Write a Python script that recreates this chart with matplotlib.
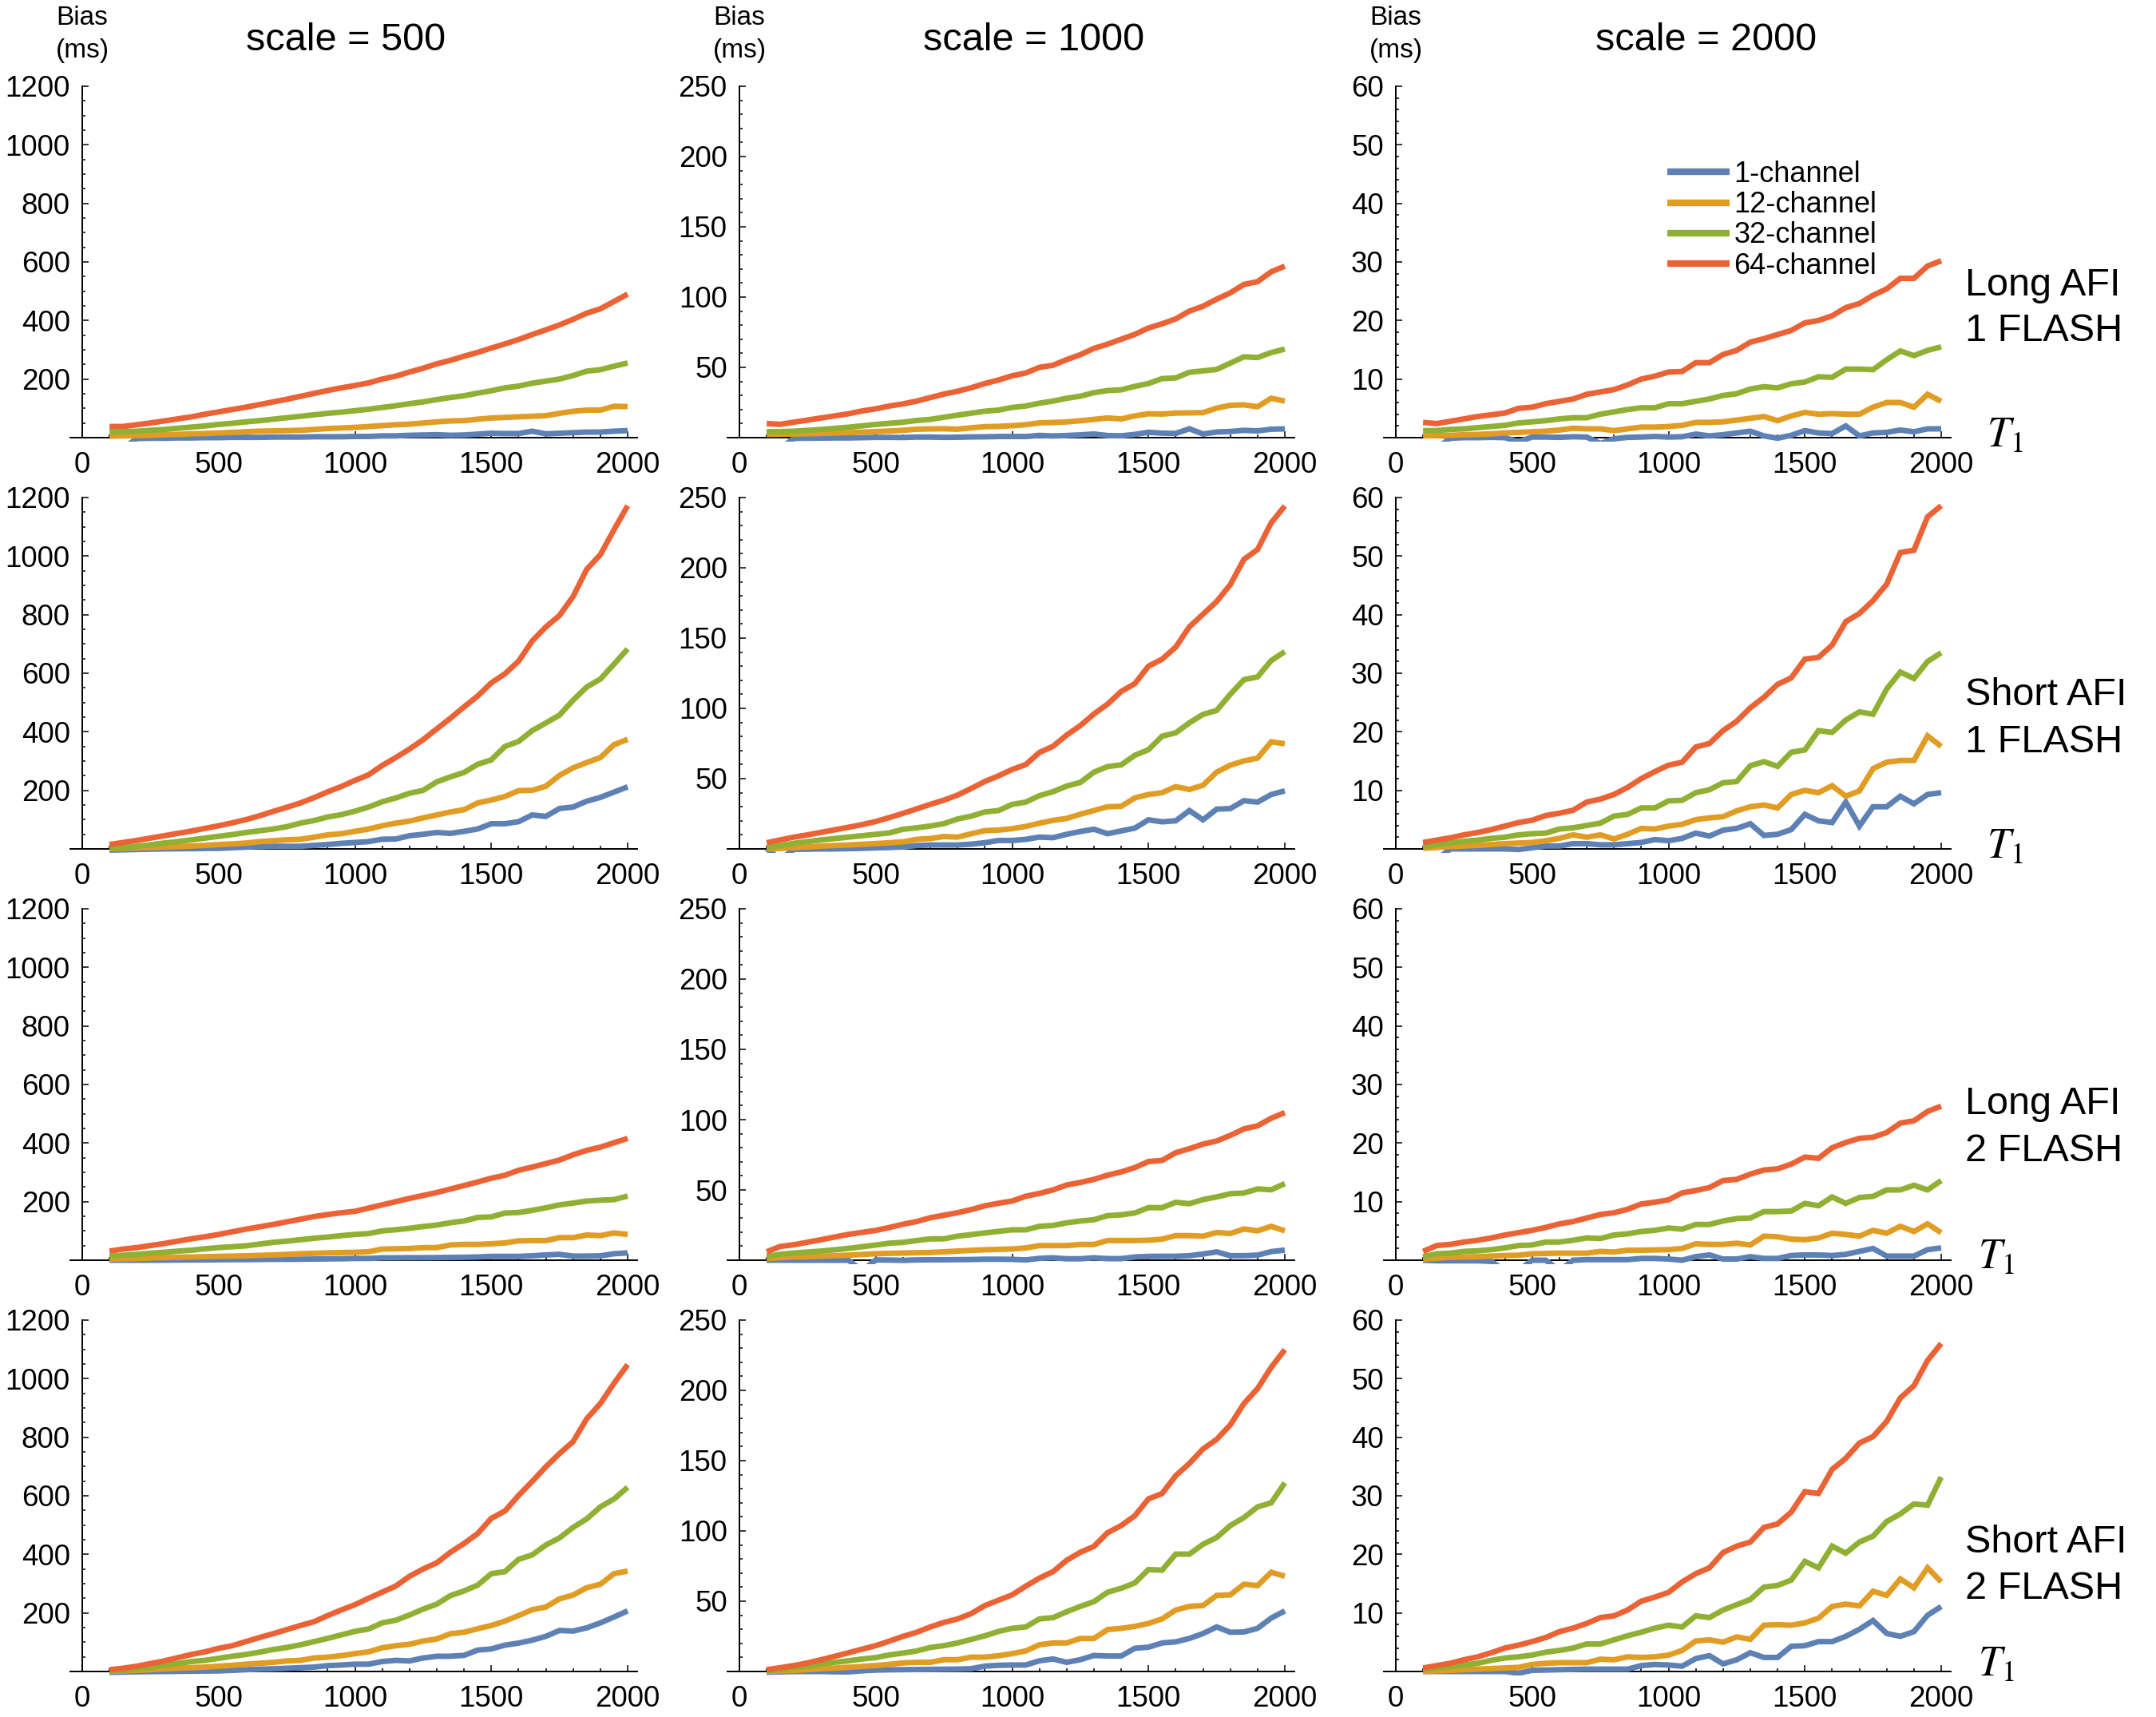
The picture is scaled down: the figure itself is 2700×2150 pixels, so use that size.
import matplotlib
matplotlib.use('Agg')
import matplotlib.pyplot as plt
from matplotlib.ticker import MultipleLocator

plt.rcParams['font.family'] = ['Liberation Sans', 'DejaVu Sans']
plt.rcParams['mathtext.fontset'] = 'stix'

# ---------------- data ----------------
T1 = [100, 150, 200, 250, 300, 350, 400, 450, 500, 550, 600, 650, 700, 750,
      800, 850, 900, 950, 1000, 1050, 1100, 1150, 1200, 1250, 1300, 1350,
      1400, 1450, 1500, 1550, 1600, 1650, 1700, 1750, 1800, 1850, 1900,
      1950, 2000]

channel_labels = ["1-channel", "12-channel", "32-channel", "64-channel"]
scales = [500, 1000, 2000]
y_max = [1200, 250, 60]
y_major = [200, 50, 10]
y_minor = [50, 10, 2]
row_labels = [("Long AFI", "1 FLASH"), ("Short AFI", "1 FLASH"),
              ("Long AFI", "2 FLASH"), ("Short AFI", "2 FLASH")]

# Long AFI, 1 FLASH
la1_500_c1 = [-36, -36, -3, -2, -2, -1, -1, 0, 0, 1, 1, 1, 2, 2, 2, 3, 3, 3, 4, 4, 6, 6, 8, 9, 10, 8, 9, 12, 15, 14, 14, 22, 13, 15, 17, 19, 19, 22, 24]
la1_500_c12 = [5, 6, 7, 8, 10, 11, 13, 14, 16, 18, 20, 22, 23, 24, 25, 28, 31, 33, 35, 38, 41, 44, 46, 50, 54, 57, 58, 63, 67, 69, 71, 73, 75, 83, 90, 94, 94, 107, 106]
la1_500_c32 = [20, 20, 22, 25, 28, 32, 36, 40, 45, 49, 54, 58, 63, 68, 73, 78, 83, 87, 92, 97, 103, 109, 116, 122, 130, 137, 143, 152, 160, 170, 176, 186, 193, 200, 212, 227, 232, 244, 255]
la1_500_c64 = [38, 38, 44, 50, 57, 64, 71, 80, 88, 96, 104, 113, 122, 131, 141, 151, 161, 170, 178, 187, 200, 210, 224, 237, 252, 264, 278, 291, 306, 320, 335, 352, 368, 385, 404, 425, 440, 465, 490]

la1_1000_c1 = [-7.5, -7.5, -0.5, -0.4, -0.3, -0.2, -0.2, 0, 0.2, 0.2, 0.1, 0.4, 0.4, 0.2, 0.3, 0.5, 0.6, 0.8, 0.8, 0.8, 1.6, 1.2, 1.5, 2, 2.6, 1.5, 1.3, 2.3, 3.8, 3.2, 3, 6.3, 2.6, 4, 4.4, 5.2, 4.8, 6, 6.2]
la1_1000_c12 = [2.3, 2.4, 2.6, 2.8, 3, 3.3, 3.6, 3.9, 4.3, 4.7, 5.2, 6, 6.2, 6.3, 6, 7, 7.8, 8, 8.5, 9.2, 10.5, 10.8, 11.2, 12, 13, 14, 13.3, 15.5, 17, 16.8, 17.5, 17.6, 17.8, 21, 23, 23.3, 22, 28, 26]
la1_1000_c32 = [4.2, 4.3, 4.6, 5.2, 5.8, 6.6, 7.4, 8.4, 9.4, 10.2, 11, 12.2, 13, 14.5, 16, 17.4, 18.8, 19.6, 21.5, 22.5, 24.5, 26, 28, 29.5, 32, 33.5, 34, 36.5, 38.5, 42, 42.5, 46.5, 47.5, 48.5, 53, 57.5, 57, 60.5, 63]
la1_1000_c64 = [10, 9.5, 11, 12.5, 14, 15.5, 17, 19, 20.5, 22.5, 24, 26, 28.5, 31, 33, 35.5, 38.5, 41, 44, 46, 50, 51.5, 55.5, 59, 63.5, 66.5, 70, 73.5, 78, 81, 84.5, 90, 93.5, 98.5, 103, 109, 111, 118, 122]

la1_2000_c1 = [-1.8, -1.8, -0.1, 0, 0, 0.05, 0, -0.7, 0.1, 0.1, 0.05, 0.15, 0.1, -1.0, -0.2, 0.05, 0.1, 0.2, 0.1, 0.15, 0.6, 0.3, 0.5, 0.8, 1.1, 0.3, -0.1, 0.4, 1.2, 0.8, 0.7, 2, 0.3, 0.8, 0.9, 1.3, 1, 1.5, 1.5]
la1_2000_c12 = [0.3, 0.35, 0.4, 0.5, 0.55, 0.65, 0.8, 0.9, 1, 1.1, 1.3, 1.6, 1.5, 1.5, 1.2, 1.5, 1.8, 1.8, 1.9, 2.1, 2.6, 2.6, 2.7, 3, 3.3, 3.6, 2.9, 3.7, 4.3, 4, 4.1, 4, 4, 5.2, 6, 6, 5.2, 7.4, 6.2]
la1_2000_c32 = [1.2, 1.2, 1.4, 1.5, 1.7, 1.9, 2.1, 2.5, 2.7, 2.9, 3.2, 3.4, 3.4, 4, 4.4, 4.8, 5.1, 5.1, 5.8, 5.8, 6.2, 6.6, 7.2, 7.5, 8.3, 8.7, 8.5, 9.2, 9.5, 10.4, 10.3, 11.7, 11.7, 11.6, 13.3, 14.8, 14, 14.9, 15.5]
la1_2000_c64 = [2.6, 2.4, 2.8, 3.2, 3.6, 3.9, 4.2, 5, 5.2, 5.8, 6.2, 6.6, 7.4, 7.8, 8.2, 9, 10, 10.5, 11.2, 11.3, 12.8, 12.8, 14.2, 14.9, 16.3, 16.9, 17.6, 18.3, 19.6, 20, 20.8, 22.2, 22.9, 24.3, 25.4, 27.2, 27.2, 29.3, 30.2]

# Short AFI, 1 FLASH
sa1_500_c1 = [-4, -3, -2, -1, 0, 0.5, 1, 1.5, 2, 4, 6, 8, 9, 9, 9, 12, 15, 19, 22, 25, 33, 34, 45, 50, 56, 53, 60, 68, 86, 86, 93, 116, 111, 138, 143, 163, 176, 194, 212]
sa1_500_c12 = [0, 2, 3, 4.5, 6, 8, 10, 12, 15, 17, 20, 25, 28, 31, 33, 40, 48, 52, 60, 68, 79, 88, 95, 106, 116, 126, 134, 157, 167, 179, 199, 200, 214, 251, 277, 295, 312, 356, 374]
sa1_500_c32 = [2, 5, 9, 14, 20, 25, 31, 37, 43, 49, 56, 62, 68, 76, 88, 97, 109, 117, 129, 143, 161, 174, 190, 200, 229, 246, 261, 289, 304, 350, 367, 404, 430, 457, 508, 553, 580, 631, 683]
sa1_500_c64 = [15, 22, 29, 37, 45, 53, 61, 70, 79, 89, 100, 113, 128, 142, 157, 175, 195, 213, 234, 253, 285, 312, 341, 373, 410, 446, 485, 522, 567, 598, 641, 710, 758, 797, 862, 955, 1005, 1090, 1172]

sa1_1000_c1 = [0.2, -7.5, -0.3, -0.2, 0, 0, 0.2, 0.4, 0.8, 1, 1.4, 2.4, 2.8, 2.8, 2.8, 3.4, 4.4, 6, 6, 6.8, 8.4, 8, 10.4, 12.4, 14, 10.8, 12.8, 14.8, 20.7, 19.3, 20, 27.3, 20.7, 28.3, 28.7, 34.3, 33.3, 38.7, 41.3]
sa1_1000_c12 = [0, 0.4, 0.8, 1.4, 2, 2.4, 2.8, 3.3, 3.8, 4.4, 5, 6.8, 7.4, 8.8, 8.4, 10.8, 13, 13.4, 14.4, 16, 18.3, 20.3, 21.7, 24.7, 27.3, 30, 30.3, 36.3, 38.7, 40, 44.3, 42.3, 45.3, 54.6, 59.6, 62.6, 64.6, 76.2, 74.8]
sa1_1000_c32 = [0.8, 2.4, 4, 5.2, 6.4, 7.4, 8.4, 9.4, 10.4, 11.4, 14, 15, 16.3, 18, 21.3, 23.3, 26.3, 27.3, 31.7, 33.3, 37.9, 40.7, 44.7, 47.3, 54.6, 58.6, 59.8, 66.6, 70.6, 80.2, 82.6, 89.7, 95.7, 98.5, 110, 120.4, 122.4, 134, 140.4]
sa1_1000_c64 = [4.4, 6.4, 8.4, 10, 11.8, 13.6, 15.4, 17.3, 19.5, 22.3, 25.3, 28.5, 31.7, 34.7, 38.3, 43, 48, 52, 56.5, 60, 68.6, 73, 81, 87.7, 96, 103, 112, 117.6, 130, 135, 143.6, 158, 167, 176, 188, 206, 213, 232, 244]

sa1_2000_c1 = [-1.8, -1.8, 0, 0, 0, 0, 0, -0.1, 0.2, 0.5, 0.5, 0.9, 0.9, 0.7, 0.7, 0.9, 1.1, 1.6, 1.4, 1.8, 2.7, 2.2, 3.2, 3.5, 4.3, 2.3, 2.5, 3.3, 5.9, 4.8, 4.5, 8, 3.9, 7.2, 7.2, 9, 7.7, 9.3, 9.6]
sa1_2000_c12 = [0.1, 0.25, 0.4, 0.5, 0.6, 0.75, 0.9, 1, 1.1, 1.4, 1.8, 2.4, 2, 2.4, 1.7, 2.5, 3.5, 3.4, 3.9, 4.2, 5, 5.3, 5.5, 6.5, 7.2, 7.5, 7, 9.3, 10, 9.6, 10.8, 9, 9.9, 13.7, 14.8, 15.1, 15.1, 19.3, 17.5]
sa1_2000_c32 = [0.45, 0.7, 1, 1.3, 1.5, 1.8, 2, 2.4, 2.6, 2.7, 3.4, 3.6, 4, 4.4, 5.6, 5.9, 7, 7, 8.2, 8.3, 9.6, 10.1, 11.3, 11.5, 14.2, 14.9, 14.1, 16.5, 16.9, 20.2, 19.9, 22, 23.4, 23, 27.3, 30.2, 29.1, 32, 33.5]
sa1_2000_c64 = [1.1, 1.5, 1.9, 2.4, 2.8, 3.3, 3.9, 4.5, 4.9, 5.7, 6.1, 6.6, 8, 8.5, 9.3, 10.5, 12, 13.2, 14.3, 14.8, 17.4, 18, 20.2, 21.8, 24.1, 25.9, 28.1, 29.2, 32.4, 32.7, 34.8, 38.8, 40.2, 42.4, 45.2, 50.6, 51, 56.7, 58.6]

# Long AFI, 2 FLASH
la2_500_c1 = [0, 0, 0, 0, 0, 0.5, 1, 1, 1.5, 2, 2, 2.5, 3, 3, 3.5, 4, 4.5, 5, 6, 6, 8, 8, 8.5, 8.5, 9, 9.5, 10, 11, 13, 13, 13, 15, 18, 20, 14, 14, 15, 22, 25]
la2_500_c12 = [4, 5, 6, 7.5, 9, 10, 11, 12, 13, 14, 15, 16.5, 18, 20, 22, 23.5, 25, 26, 27, 29, 38, 39, 40, 43, 43, 52, 54, 54, 56, 59, 66, 67, 67, 77, 77, 86, 84, 93, 88]
la2_500_c32 = [13, 17, 20, 24, 27, 31, 34, 39, 43, 46, 49, 55, 61, 65, 70, 75, 79, 84, 88, 91, 100, 104, 109, 115, 120, 128, 134, 146, 148, 161, 163, 170, 179, 189, 195, 202, 205, 207, 219]
la2_500_c64 = [31, 38, 43, 50, 57, 65, 73, 80, 88, 97, 106, 114, 122, 131, 140, 149, 156, 162, 167, 178, 189, 200, 211, 221, 231, 243, 255, 267, 280, 290, 307, 318, 330, 342, 360, 375, 386, 401, 416]

la2_1000_c1 = [0, 0, 0, 0, 0, 0, 0, -7.5, 0.2, 0.1, -0.1, 0.2, 0.3, 0.3, 0.4, 0.5, 0.7, 0.7, 0.6, 0.2, 1.3, 1.7, 1, 1, 1.7, 1.1, 1.1, 2.3, 2.7, 2.8, 2.8, 3.2, 4.4, 5.9, 3.2, 3.2, 3.6, 6.1, 7.2]
la2_1000_c12 = [1.3, 1.8, 2.3, 2.5, 2.8, 3.2, 3.6, 4.1, 4.6, 4.9, 5.1, 5.3, 5.5, 6, 6.5, 7, 7.4, 7.7, 8, 8.7, 10.4, 10.4, 10.4, 11.2, 11.2, 14, 14, 14, 14.2, 15, 17.5, 17.5, 17.1, 19.7, 19, 22.2, 20.9, 24.1, 20.9]
la2_1000_c32 = [2.8, 4.2, 5.1, 5.8, 6.5, 7.4, 8.4, 9.6, 10.8, 12.1, 12.7, 14, 15.2, 15.2, 17.1, 18.2, 19.4, 20.5, 21.6, 21.6, 24.1, 24.7, 26.6, 27.9, 28.8, 31.7, 32.3, 33.6, 37.4, 37.4, 41.2, 40.2, 43.1, 45, 47.3, 47.8, 50.7, 50.1, 54.5]
la2_1000_c64 = [6, 9.8, 11, 12.8, 14.6, 16.5, 18.4, 19.8, 21.2, 23.3, 25.6, 27.5, 30.2, 32, 33.8, 36, 38.7, 40.5, 42.1, 45.5, 47.5, 50, 53.5, 55.3, 57.5, 60.5, 62.8, 65.9, 70.2, 71, 76.5, 79.3, 82.6, 84.8, 88.8, 93.4, 95.6, 101, 105]

la2_2000_c1 = [0, -0.1, -0.1, -0.1, -0.1, -0.2, -1.8, -1.8, 0, 0, -1.8, 0, 0.1, 0.1, 0.1, 0.1, 0.3, 0.3, 0.2, 0, 0.6, 0.9, 0.2, 0.2, 0.6, 0.3, 0.3, 0.8, 0.9, 0.9, 0.8, 1, 1.5, 2, 0.7, 0.7, 0.7, 1.8, 2.1]
la2_2000_c12 = [0.2, 0.35, 0.5, 0.55, 0.6, 0.7, 0.8, 0.85, 1.1, 1.15, 1.2, 1.2, 1.2, 1.5, 1.4, 1.7, 1.7, 1.75, 1.8, 2, 2.8, 2.7, 2.7, 2.9, 2.6, 4.1, 4, 3.6, 3.5, 3.8, 4.6, 4.4, 4.1, 5.1, 4.6, 5.8, 4.9, 6.2, 4.7]
la2_2000_c32 = [0.6, 1.1, 1.2, 1.5, 1.6, 1.8, 2.1, 2.5, 2.6, 3.1, 3.1, 3.4, 3.8, 3.7, 4.3, 4.5, 4.9, 5.1, 5.5, 5.3, 6.1, 6.1, 6.7, 7.1, 7.2, 8.3, 8.3, 8.4, 9.7, 9.3, 10.8, 9.7, 10.7, 10.9, 12, 12, 12.8, 12, 13.6]
la2_2000_c64 = [1.5, 2.5, 2.7, 3.1, 3.4, 3.8, 4.3, 4.7, 5.1, 5.6, 6.2, 6.6, 7.2, 7.8, 8.1, 8.7, 9.6, 9.9, 10.3, 11.5, 11.9, 12.4, 13.6, 13.8, 14.7, 15.4, 15.6, 16.4, 17.6, 17.4, 19.2, 20.1, 20.8, 21, 21.8, 23.4, 23.8, 25.4, 26.3]

# Short AFI, 2 FLASH
sa2_500_c1 = [-3, -2, -1, -0.5, 0, 0.5, 1, 1.5, 2, 4, 6, 8, 9, 11, 13, 15, 20, 22, 25, 25, 34, 38, 36, 46, 52, 52, 55, 73, 77, 90, 97, 107, 120, 140, 138, 149, 166, 186, 207]
sa2_500_c12 = [0, 2, 4, 6, 9, 11, 13, 15, 18, 21, 25, 28, 31, 36, 38, 46, 49, 54, 61, 67, 81, 88, 93, 104, 111, 129, 134, 146, 157, 172, 191, 211, 220, 248, 261, 286, 298, 334, 343]
sa2_500_c32 = [0, 4, 9, 15, 22, 27, 34, 38, 45, 52, 58, 66, 75, 82, 91, 102, 113, 125, 137, 145, 166, 175, 193, 213, 230, 259, 275, 295, 334, 341, 383, 398, 432, 456, 492, 521, 562, 589, 629]
sa2_500_c64 = [6, 11, 18, 27, 36, 47, 58, 67, 79, 88, 102, 116, 129, 143, 157, 170, 191, 210, 228, 250, 271, 292, 325, 350, 371, 407, 437, 471, 523, 548, 601, 649, 699, 744, 785, 863, 915, 984, 1048]

sa2_1000_c1 = [-0.5, -0.3, 0, 0, 0, -0.2, -0.3, 0.5, 1, 1.2, 1.3, 1.4, 1.5, 1.6, 1.7, 2, 3.8, 4.4, 4.6, 4.6, 7.6, 8.9, 6.5, 8.4, 11.4, 11, 11, 16.5, 17.3, 20.3, 21.1, 23.5, 27, 31.7, 27.9, 28.1, 30.7, 38, 43.1]
sa2_1000_c12 = [0, 0.4, 0.8, 1.3, 1.9, 2.4, 3, 3.6, 4.2, 5.1, 6.1, 6.5, 6.5, 8.4, 8.4, 10.2, 10.2, 11.2, 12.7, 14.6, 19, 20.3, 20.3, 23.5, 23.5, 29.8, 30.7, 32.1, 34.2, 37.4, 43.7, 46.3, 46.9, 54.1, 54.5, 62.1, 61.1, 70.6, 67.8]
sa2_1000_c32 = [0.4, 1.3, 2.7, 3.8, 5.1, 6.5, 7.6, 8.9, 9.9, 11.8, 13.1, 14.6, 17.1, 18.4, 20.3, 22.8, 25.4, 28.5, 30.7, 31.7, 37.4, 38.3, 42.5, 46.3, 49.7, 56.4, 59.2, 63, 72.5, 72.1, 83.5, 83.5, 90.5, 95.3, 103.8, 109.5, 117.1, 120, 134.2]
sa2_1000_c64 = [1.3, 2.7, 4.2, 6.1, 8.4, 10.8, 13.3, 15.9, 18.4, 21.6, 25, 27.9, 31.7, 34.9, 37.4, 41.2, 46.9, 50.7, 54.5, 60.7, 66.4, 71, 79.1, 84.8, 89, 98.7, 103.8, 110.8, 122.8, 126.6, 139.3, 148, 158.3, 165.1, 175.4, 190.6, 201.2, 216.4, 229]

sa2_2000_c1 = [0, 0, 0, 0, 0, 0, 0, -0.3, 0.2, 0.25, 0.3, 0.35, 0.4, 0.4, 0.4, 0.4, 1, 1.2, 1.1, 0.9, 2.2, 2.7, 1.3, 2, 3.2, 2.4, 2.4, 4.3, 4.4, 5.1, 5.1, 6, 7.2, 8.7, 6.5, 6, 6.8, 9.6, 11.1]
sa2_2000_c12 = [0, 0.1, 0.2, 0.3, 0.4, 0.5, 0.6, 0.7, 1.2, 1.4, 1.5, 1.5, 1.5, 2.1, 2, 2.5, 2.4, 2.5, 2.8, 3.6, 5.2, 5.4, 5, 5.9, 5.5, 7.9, 8, 7.9, 8.3, 9.1, 11.1, 11.5, 11.2, 13.7, 13, 15.8, 14.3, 17.7, 15.3]
sa2_2000_c32 = [0.3, 0.6, 0.8, 1.1, 1.4, 1.9, 2.3, 2.5, 2.8, 3.3, 3.6, 4, 4.7, 4.7, 5.4, 6.1, 6.7, 7.4, 7.9, 7.6, 9.5, 9.2, 10.5, 11.4, 12.3, 14.4, 14.7, 15.6, 18.8, 17.7, 21.4, 20.2, 22.1, 23.1, 25.6, 26.9, 28.6, 28.4, 33.2]
sa2_2000_c64 = [0.6, 1, 1.4, 2, 2.5, 3.2, 4, 4.5, 5.1, 5.8, 6.8, 7.4, 8.2, 9.2, 9.5, 10.5, 12, 12.7, 13.5, 15.3, 16.7, 17.7, 20.3, 21.4, 22.1, 24.6, 25.2, 27.2, 30.7, 30.4, 34.5, 36.4, 39, 40.1, 42.7, 46.7, 48.8, 53.1, 56]

panels = [
    [[la1_500_c1, la1_500_c12, la1_500_c32, la1_500_c64],
     [la1_1000_c1, la1_1000_c12, la1_1000_c32, la1_1000_c64],
     [la1_2000_c1, la1_2000_c12, la1_2000_c32, la1_2000_c64]],
    [[sa1_500_c1, sa1_500_c12, sa1_500_c32, sa1_500_c64],
     [sa1_1000_c1, sa1_1000_c12, sa1_1000_c32, sa1_1000_c64],
     [sa1_2000_c1, sa1_2000_c12, sa1_2000_c32, sa1_2000_c64]],
    [[la2_500_c1, la2_500_c12, la2_500_c32, la2_500_c64],
     [la2_1000_c1, la2_1000_c12, la2_1000_c32, la2_1000_c64],
     [la2_2000_c1, la2_2000_c12, la2_2000_c32, la2_2000_c64]],
    [[sa2_500_c1, sa2_500_c12, sa2_500_c32, sa2_500_c64],
     [sa2_1000_c1, sa2_1000_c12, sa2_1000_c32, sa2_1000_c64],
     [sa2_2000_c1, sa2_2000_c12, sa2_2000_c32, sa2_2000_c64]],
]

# ---------------- style / layout ----------------
colors = ['#5E81B5', '#E19C24', '#8FB032', '#EB6235']
W, H = 2700, 2150
fig = plt.figure(figsize=(W / 100, H / 100), dpi=100)

col_x0 = [103, 926, 1748]        # pixel of T1 = 0
row_top = [108, 623, 1138, 1653]  # pixel of y max
title_cx = [433, 1295, 2137]      # pixel centre of column titles
PXW = 683 / 2000.0
XLO, XHI = -45, 2040
YPAD = 0.012
PH = 440.0

axes_grid = []
for r in range(4):
    row_axes = []
    for c in range(3):
        ymax = y_max[c]
        left = col_x0[c] + XLO * PXW
        width = (XHI - XLO) * PXW
        hpx = PH * (1 + YPAD)
        bottom = row_top[r] + hpx
        ax = fig.add_axes([left / W, 1 - bottom / H, width / W, hpx / H])
        ax.set_xlim(XLO, XHI)
        ax.set_ylim(-YPAD * ymax, ymax)
        for k in range(4):
            ax.plot(T1, panels[r][c][k], color=colors[k], lw=5.0,
                    solid_capstyle='butt', solid_joinstyle='miter',
                    zorder=3, label=channel_labels[k])
        for s in ['top', 'right']:
            ax.spines[s].set_visible(False)
        ax.spines['left'].set_position(('data', 0))
        ax.spines['bottom'].set_position(('data', 0))
        ax.spines['left'].set_bounds(0, ymax)
        ax.spines['bottom'].set_bounds(XLO, XHI - 5)
        for s in ['left', 'bottom']:
            ax.spines[s].set_linewidth(1.4)
            ax.spines[s].set_zorder(2)
        ax.set_xticks([0, 500, 1000, 1500, 2000])
        ax.set_xticklabels(['0', '500', '1000', '1500', '2000'])
        ax.xaxis.set_minor_locator(MultipleLocator(100))
        yt = list(range(y_major[c], ymax + 1, y_major[c]))
        ax.set_yticks(yt)
        ax.set_yticklabels([str(v) for v in yt])
        ax.yaxis.set_minor_locator(MultipleLocator(y_minor[c]))
        ax.tick_params(which='both', direction='in', width=1.1, colors='black')
        ax.tick_params(which='major', length=5.8)
        ax.tick_params(which='minor', length=3.2)
        ax.tick_params(axis='x', which='major', labelsize=26.5, pad=12)
        ax.tick_params(axis='y', which='major', labelsize=26.5, pad=11)
        ax.patch.set_visible(False)
        row_axes.append(ax)
    axes_grid.append(row_axes)

# column titles and y-axis captions
for c in range(3):
    fig.text(title_cx[c] / W, 1 - 63 / H, f"scale = {scales[c]}", ha='center',
             va='baseline', fontsize=35)
    fig.text(col_x0[c] / W, 1 - 31 / H, "Bias", ha='center',
             va='baseline', fontsize=24)
    fig.text(col_x0[c] / W, 1 - 72 / H, "(ms)", ha='center',
             va='baseline', fontsize=24)

# row labels and T1 axis labels
label_base = [(370, 427), (883, 942), (1395, 1454), (1944, 2002)]
t1_pos = [(2488, 560), (2488, 1075), (2477, 1589), (2477, 2099)]
for r in range(4):
    fig.text(2461 / W, 1 - label_base[r][0] / H, row_labels[r][0],
             ha='left', va='baseline', fontsize=35)
    fig.text(2461 / W, 1 - label_base[r][1] / H, row_labels[r][1],
             ha='left', va='baseline', fontsize=35)
    fig.text(t1_pos[r][0] / W, 1 - t1_pos[r][1] / H, r'$T_1$',
             ha='left', va='baseline', fontsize=38)

# legend in the top-right panel
axl = axes_grid[0][2]
handles, labels = axl.get_legend_handles_labels()
leg = axl.legend(handles, labels, loc='upper left',
                 bbox_to_anchor=(2088 / W, 1 - 201 / H),
                 bbox_transform=fig.transFigure, frameon=False,
                 fontsize=26, handlelength=2.15, handletextpad=0.16,
                 labelspacing=0.09, borderpad=0, borderaxespad=0)
for ln in leg.get_lines():
    ln.set_linewidth(6.0)
    ln.set_solid_capstyle('butt')

fig.savefig('out.png', dpi=100)
